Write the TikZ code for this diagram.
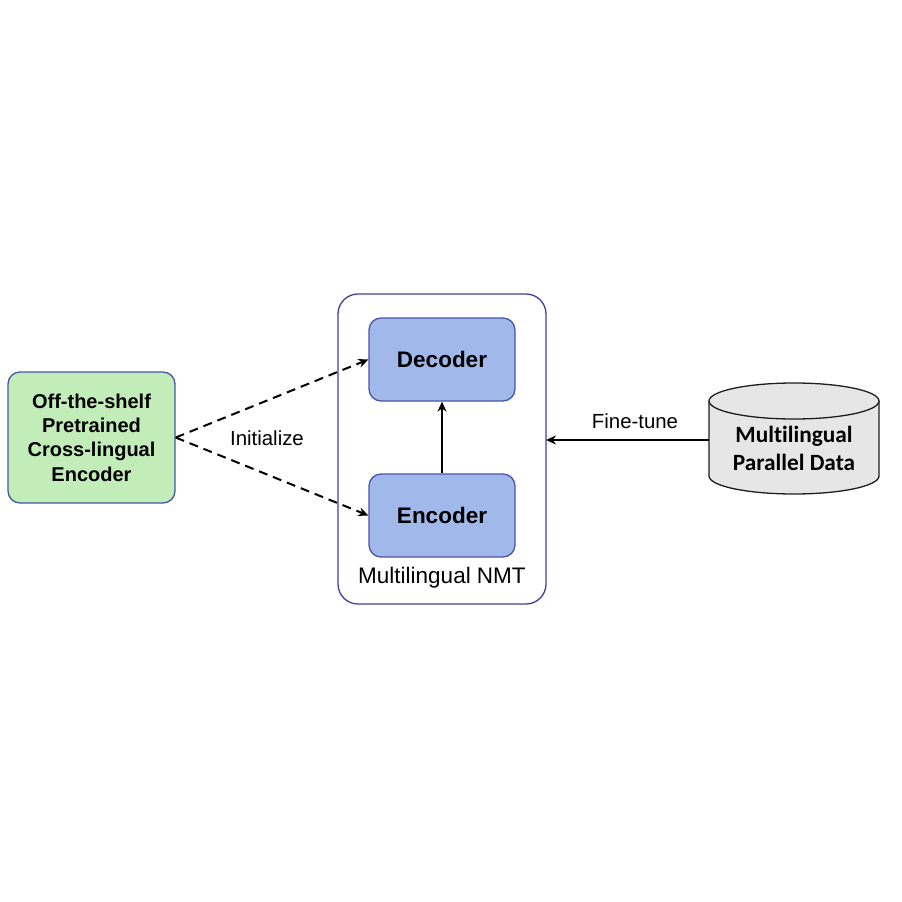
\documentclass[tikz,border=0pt]{standalone}
\usepackage{fontspec}
\setmainfont{Liberation Sans}
\newfontfamily\carlito[Ligatures={NoCommon,NoContextual}]{Carlito}
\usetikzlibrary{arrows.meta}
\definecolor{greenfill}{RGB}{194,237,184}
\definecolor{bluefill}{RGB}{161,184,234}
\definecolor{blueedge}{RGB}{72,86,168}
\definecolor{frameedge}{RGB}{64,64,160}
\definecolor{cylfill}{RGB}{230,230,230}
\definecolor{cyledge}{RGB}{30,30,30}
\tikzset{
  pretrained/.style={draw=blueedge, line width=1.3pt, fill=greenfill, rounded corners=12pt,
    minimum width=167pt, minimum height=131pt, align=center,
    font=\fontsize{20}{24.4}\selectfont\bfseries},
  block/.style={draw=blueedge, line width=1.3pt, fill=bluefill, rounded corners=12pt,
    minimum width=146pt, minimum height=83pt, font=\fontsize{22.5}{26}\selectfont\bfseries},
  frame/.style={draw=frameedge, line width=1.3pt, rounded corners=20pt,
    minimum width=208pt, minimum height=310pt},
  lbl/.style={font=\fontsize{20.4}{24}\selectfont},
  initarrow/.style={dashed, dash pattern=on 9pt off 6pt, line width=2pt, -{Stealth[length=10pt,width=9pt]}},
  solidarrow/.style={line width=2pt, -{Stealth[length=10pt,width=9pt]}},
  cylinderbody/.style={draw=cyledge, line width=1.3pt, fill=cylfill}
}
\begin{document}
\begin{tikzpicture}[x=1pt, y=-1pt]
  \useasboundingbox (0,0) rectangle (902,902);
  % container for the translation model
  \node[frame] (nmt) at (442,449) {};
  \node[block] (dec) at (442,359.5) {Decoder};
  \node[block] (enc) at (442,515.5) {Encoder};
  \node[font=\fontsize{22.5}{26}\selectfont] (nmtlabel) at (442,578) {Multilingual NMT};
  % pretrained encoder
  \node[pretrained] (xenc) at (91.5,437.5) {Off-the-shelf\\Pretrained\\Cross-lingual\\Encoder};
  % parallel data store, drawn as a cylinder (y axis points down here)
  \filldraw[cylinderbody] (709,401) -- (709,476) arc[start angle=180, end angle=0, x radius=85, y radius=18]
    -- (879,401) arc[start angle=0, end angle=-180, x radius=85, y radius=18] -- cycle;
  \draw[cyledge, line width=1.3pt] (709,401) arc[start angle=180, end angle=0, x radius=85, y radius=18];
  \node[minimum width=170pt, minimum height=78pt, inner sep=0pt, align=center,
        font=\carlito\fontsize{23.3}{28}\selectfont\bfseries] (data) at (794,448) {Mult\kern0pt ilingual\\Parallel Data};
  \coordinate (datain) at (709,440);
  \coordinate (nmtin) at (546,440);
  % connectors
  \draw[initarrow] (xenc.east) -- (dec.west);
  \draw[initarrow] (xenc.east) -- (enc.west);
  \draw[solidarrow] (enc.north) -- (dec.south);
  \draw[solidarrow] (datain) -- (nmtin);
  \node[lbl] (initlabel) at (267,438) {Initialize};
  \node[lbl] (ftlabel) at (635,421) {Fine-tune};
\end{tikzpicture}
\end{document}
